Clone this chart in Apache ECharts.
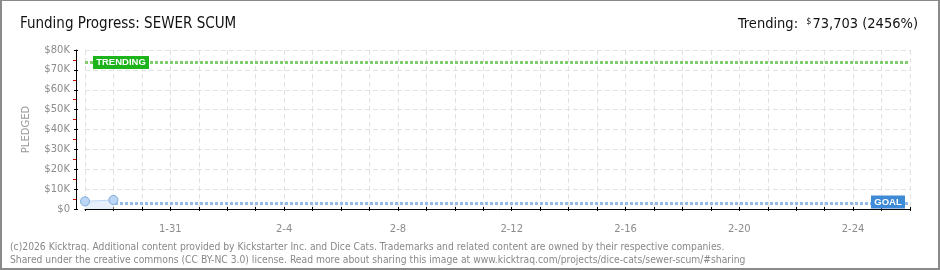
<!DOCTYPE html>
<html><head><meta charset="utf-8">
<script src="https://cdn.jsdelivr.net/npm/echarts@6/dist/echarts.min.js"></script>
<style>
html,body{margin:0;padding:0;background:#fff;}
#c{width:940px;height:270px;position:absolute;left:0;top:0}
#b{position:absolute;left:0;top:0;width:940px;height:270px;box-sizing:border-box;border:2px solid #8a8a8a;border-top-width:1px;pointer-events:none}
</style></head><body><div id="c"></div><div id="b"></div>
<script>
const dates = ['1-28','1-29','1-30','1-31','2-1','2-2','2-3','2-4','2-5','2-6','2-7','2-8','2-9','2-10','2-11','2-12','2-13','2-14','2-15','2-16','2-17','2-18','2-19','2-20','2-21','2-22','2-23','2-24','2-25','2-26'];
const pledged = [3850, 4550];
const goal = 3000;
const trending = 73703;
const trendingPct = 2456;
const projectName = 'SEWER SCUM';
const yMax = 80000, yStep = 10000;

const gray = '#8c8c8c';
const chart = echarts.init(document.getElementById('c'), null, {renderer:'canvas'});
const fmtMoney = v => v.toString().replace(/\B(?=(\d{3})+(?!\d))/g, ',');
const yFmt = v => v === 0 ? '$0' : '$' + (v/1000) + 'K';
const labelIdx = (i) => i >= 3 && (i - 3) % 4 === 0;
const titleFont = 'DejaVu Sans Condensed, Liberation Sans Narrow, sans-serif';

const option = {
  animation: false,
  backgroundColor: '#fff',
  title: [
    {text: 'Funding Progress: ' + projectName, left: 15, top: 12,
     textStyle: {fontFamily: titleFont, fontSize: 15, fontWeight: 'normal', color: '#111'}},
    {text: 'Trending:  {s|$}' + fmtMoney(trending) + ' (' + trendingPct + '%)', right: 17, top: 12,
     textStyle: {fontFamily: titleFont, fontSize: 14.5, fontWeight: 'normal', color: '#111',
       rich: {s: {fontSize: 9, verticalAlign: 'top', padding: [0,1,6,0], fontFamily: titleFont, color: '#111'}}}},
    {text: '(c)2026 Kicktraq. Additional content provided by Kickstarter Inc. and Dice Cats. Trademarks and related content are owned by their respective companies.\nShared under the creative commons (CC BY-NC 3.0) license. Read more about sharing this image at www.kicktraq.com/projects/dice-cats/sewer-scum/#sharing',
     left: 5, top: 236,
     textStyle: {fontFamily: 'DejaVu Sans Condensed, sans-serif', fontSize: 10.25, fontWeight: 'normal', color: '#888', lineHeight: 13}}
  ],
  grid: {left: 85, right: 30, top: 50, bottom: 61},
  xAxis: [{
    type: 'category', data: dates, boundaryGap: false, offset: 11,
    axisLine: {lineStyle: {color: '#000', width: 1}},
    axisTick: {show: true, interval: 0, length: 2, lineStyle: {color: '#000'}},
    axisLabel: {interval: labelIdx, color: gray, fontSize: 10, margin: 4, fontFamily: 'DejaVu Sans, sans-serif'},
    splitLine: {show: true, interval: 0, lineStyle: {color: '#e2e2e2', type: [5,3]}}
  }, {
    type: 'category', data: dates, boundaryGap: false, offset: 11, position: 'bottom',
    axisLine: {show: false},
    axisTick: {show: true, inside: true, interval: 0, length: 2, lineStyle: {color: '#000'}},
    axisLabel: {show: false}, splitLine: {show: false}
  }],
  yAxis: [{
    type: 'value', min: 0, max: yMax, interval: yStep, offset: 9,
    name: 'PLEDGED', nameLocation: 'middle', nameGap: 45, nameRotate: 90,
    nameTextStyle: {color: '#999', fontSize: 10, fontFamily: 'DejaVu Sans, sans-serif'},
    axisLine: {show: true, lineStyle: {color: '#000'}},
    axisTick: {show: true, length: 2, lineStyle: {color: '#000'}},
    minorTick: {show: true, splitNumber: 2, length: 3, lineStyle: {color: '#e00000', width: 1}},
    axisLabel: {formatter: yFmt, color: gray, fontSize: 10, margin: 6, fontFamily: 'DejaVu Sans, sans-serif'},
    splitLine: {show: true, lineStyle: {color: '#e2e2e2', type: [5,3]}}
  }, {
    type: 'value', min: 0, max: yMax, interval: yStep, offset: 9, position: 'left',
    axisLine: {show: false},
    axisTick: {show: true, inside: true, length: 2, lineStyle: {color: '#000'}},
    axisLabel: {show: false}, splitLine: {show: false}
  }],
  series: [{
    type: 'line', name: 'Pledged', data: pledged,
    symbol: 'circle', symbolSize: 9, z: 5,
    itemStyle: {color: '#bcd6f5', borderColor: '#7fa9dc', borderWidth: 1},
    lineStyle: {color: '#bcd6f5', width: 1},
    areaStyle: {color: '#e6effa', opacity: 1},
    markLine: {
      silent: true, symbol: 'none', z: 3,
      label: {show: false},
      data: [
        {yAxis: goal, lineStyle: {color: '#94bbe8', type: [3,2], width: 3}},
        {yAxis: trending, lineStyle: {color: '#80cc70', type: [3,2], width: 3}}
      ]
    },
    markPoint: {
      silent: true, z: 6,
      data: [
        {coord: [dates[0], trending], symbol: 'rect', symbolSize: [56, 13], symbolOffset: [36, 0],
         itemStyle: {color: '#1db31a'},
         label: {show: true, formatter: 'TRENDING', color: '#fff', fontSize: 9.5, fontFamily: 'Liberation Sans, sans-serif', fontWeight: 'bold'}},
        {coord: [dates[dates.length - 1], goal], symbol: 'rect', symbolSize: [34, 13], symbolOffset: [-22, -1],
         itemStyle: {color: '#3f8ad6'},
         label: {show: true, formatter: 'GOAL', color: '#fff', fontSize: 9.5, fontFamily: 'Liberation Sans, sans-serif', fontWeight: 'bold'}}
      ]
    }
  }]
};
chart.setOption(option);
</script></body></html>
